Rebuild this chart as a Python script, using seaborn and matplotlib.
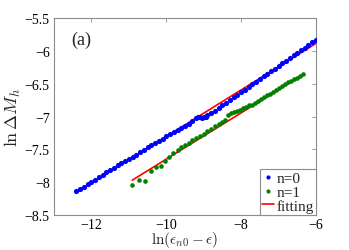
import matplotlib
matplotlib.use("Agg")
import matplotlib.pyplot as plt
import seaborn as sns
from matplotlib.lines import Line2D

# ---- data ----
n0_x = [-12.4, -12.3, -12.2, -12.1, -12.0, -11.9, -11.8, -11.7, -11.6, -11.5,
        -11.4, -11.3, -11.2, -11.1, -11.0, -10.9, -10.8, -10.7, -10.6, -10.5,
        -10.4, -10.3, -10.2, -10.1, -10.0, -9.9, -9.8, -9.7, -9.6, -9.5,
        -9.4, -9.3, -9.2, -9.15, -9.1, -9.05, -9.0, -8.95, -8.9, -8.8,
        -8.7, -8.6, -8.5, -8.4, -8.3, -8.2, -8.1, -8.0, -7.9, -7.8,
        -7.7, -7.6, -7.5, -7.4, -7.3, -7.2, -7.1, -7.0, -6.9, -6.8,
        -6.7, -6.6, -6.5, -6.4, -6.3, -6.2, -6.1, -6.0]
n0_y = [-8.14, -8.11, -8.07, -8.03, -7.99, -7.96, -7.92, -7.89, -7.85, -7.82,
        -7.78, -7.74, -7.71, -7.67, -7.64, -7.61, -7.58, -7.54, -7.51, -7.47,
        -7.44, -7.41, -7.37, -7.34, -7.30, -7.27, -7.24, -7.20, -7.17, -7.14,
        -7.11, -7.07, -7.03, -7.00, -7.00, -7.02, -7.01, -7.00, -6.98, -6.95,
        -6.91, -6.87, -6.83, -6.79, -6.75, -6.71, -6.67, -6.63, -6.59, -6.55,
        -6.51, -6.47, -6.43, -6.39, -6.35, -6.31, -6.27, -6.23, -6.19, -6.15,
        -6.11, -6.07, -6.03, -5.99, -5.95, -5.91, -5.87, -5.83]

n1_x = [-10.91, -10.73, -10.57, -10.41, -10.27, -10.15, -10.03, -9.92, -9.81,
        -9.70, -9.60, -9.50, -9.40, -9.30, -9.20, -9.10, -9.00, -8.90, -8.80,
        -8.70, -8.60, -8.50, -8.42, -8.34, -8.26, -8.18, -8.10, -8.02, -7.94,
        -7.86, -7.78, -7.70, -7.62, -7.54, -7.46, -7.38, -7.30, -7.22, -7.14,
        -7.06, -6.98, -6.90, -6.82, -6.74, -6.66, -6.58, -6.50, -6.42, -6.34]
n1_y = [-8.05, -7.96, -7.98, -7.83, -7.77, -7.76, -7.67, -7.61, -7.56,
        -7.51, -7.47, -7.43, -7.40, -7.36, -7.33, -7.29, -7.26, -7.22, -7.19,
        -7.15, -7.12, -7.08, -7.05, -6.98, -6.95, -6.93, -6.92, -6.90, -6.87,
        -6.85, -6.83, -6.82, -6.79, -6.77, -6.74, -6.71, -6.68, -6.65, -6.62,
        -6.59, -6.56, -6.53, -6.51, -6.48, -6.46, -6.43, -6.41, -6.38, -6.35]

fit0_x = [-12.39, -5.98]
fit0_y = [-8.15, -5.88]
fit1_x = [-10.91, -6.34]
fit1_y = [-7.97, -6.36]

x_ticks = [-12, -10, -8, -6]
y_ticks = [-8.5, -8, -7.5, -7, -6.5, -6, -5.5]
y_tick_labels = ["\u22128.5", "\u22128", "\u22127.5", "\u22127", "\u22126.5", "\u22126", "\u22125.5"]
x_tick_labels = ["\u221212", "\u221210", "\u22128", "\u22126"]
legend_labels = ["n=0", "n=1", "fitting"]

# ---- style ----
sns.set_theme(style="white")
plt.rcParams["font.family"] = ["Liberation Serif", "DejaVu Serif"]
plt.rcParams["mathtext.fontset"] = "cm"

fig = plt.figure(figsize=(3.49, 2.51), dpi=100)
ax = fig.add_axes([0.1547, 0.1394, 0.9054 - 0.1547, 0.9243 - 0.1394])

blue = "#0000ff"
green = "#008000"
red = "#ff0000"

sns.lineplot(x=fit0_x, y=fit0_y, color=red, lw=1.2, ax=ax, zorder=2)
sns.lineplot(x=fit1_x, y=fit1_y, color=red, lw=1.2, ax=ax, zorder=2)
sns.scatterplot(x=n0_x, y=n0_y, color=blue, s=14, linewidth=0, ax=ax, zorder=3)
sns.scatterplot(x=n1_x, y=n1_y, color=green, s=11, linewidth=0, ax=ax, zorder=3)

ax.set_xlim(-13, -6)
ax.set_ylim(-8.5, -5.5)
ax.set_xticks(x_ticks)
ax.set_xticklabels(x_tick_labels)
ax.set_yticks(y_ticks)
ax.set_yticklabels(y_tick_labels)

gray = "#8c8c8c"
for sp in ax.spines.values():
    sp.set_color(gray)
    sp.set_linewidth(0.8)
ax.tick_params(direction="in", length=3, width=0.6, color=gray,
               top=True, right=True, labelsize=10, pad=3, labelcolor="black")
ax.tick_params(axis="x", pad=2)

ax.set_xlabel(r"$\ln(\epsilon_{n0}-\epsilon)$", fontsize=11, labelpad=-1)
ax.set_ylabel(r"$\ln\Delta M_h$", fontsize=13, labelpad=1)

ax.text(-12.55, -5.83, "(a)", fontsize=13, va="center", ha="left")

handles = [
    Line2D([], [], marker=".", color=blue, linestyle="none", markersize=4),
    Line2D([], [], marker=".", color=green, linestyle="none", markersize=4),
    Line2D([], [], color=red, lw=1.2),
]
leg = ax.legend(handles, legend_labels, loc="lower right", fontsize=11,
                frameon=True, fancybox=False, edgecolor=gray, framealpha=1,
                borderaxespad=0.0, borderpad=0.15, labelspacing=0.0,
                handlelength=0.8, handletextpad=0.15)
leg.get_frame().set_linewidth(0.8)

fig.savefig("out.png", dpi=100)
